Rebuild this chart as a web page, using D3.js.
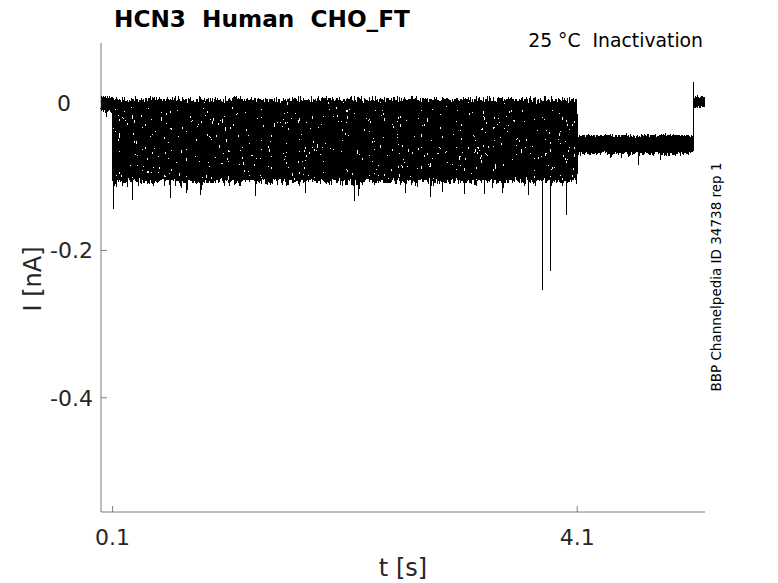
<!DOCTYPE html>
<html><head><meta charset="utf-8">
<script src="https://cdn.jsdelivr.net/npm/d3@7"></script>
<style>
body{margin:0;background:#fff;}
text{font-family:"DejaVu Sans",sans-serif;white-space:pre;}
</style></head>
<body><svg id="c" width="778" height="583"></svg>
<script>
// ---- data ----
const title = "HCN3  Human  CHO_FT";
const subtitle = "25 \u00B0C  Inactivation";
const sideNote = "BBP Channelpedia ID 34738 rep 1";
const xTicks = [0.1, 4.1];
const xTickLabels = ["0.1", "4.1"];
const yTicks = [0, -0.2, -0.4];
const yTickLabels = ["0", "-0.2", "-0.4"];
// protocol epochs (s)
const epochStarts = [0, 0.1, 4.1, 5.1];
const epochEnd = 5.2;
const sampleRate = 400; // samples per second drawn
// holding current before / after (nA)
const preLevel = -0.001;
const postLevel = 0.002;
// current level of each sweep during the 4 s test step (nA)
const stepLevels = [0.000, -0.003, -0.007, -0.012, -0.017, -0.022, -0.027, -0.032, -0.037, -0.042,
                    -0.047, -0.052, -0.057, -0.062, -0.067, -0.072, -0.077, -0.082, -0.087, -0.092,
                    -0.097, -0.102];
// current level of each sweep during the tail step (nA)
const tailLevels = [-0.051, -0.051, -0.052, -0.052, -0.053, -0.053, -0.054, -0.054, -0.055, -0.055,
                    -0.055, -0.056, -0.056, -0.057, -0.057, -0.058, -0.058, -0.059, -0.059, -0.060,
                    -0.060, -0.061];
// recorded noise pattern, fast component (pA)
const noiseA = [3,-2,5,-4,1,-6,2,4,-1,-5,6,-3,0,3,-4,5,-2,-6,1,4,-3,2,-5,6,-1,-4,3,0,5,-2,
  -6,2,4,-3,1,-5,6,-1,3,-4,0,5,-2,-3,4,-6,2,1,-5,3,-1,6,-4,2,-2,5,-3,0,4,-6,1,3,-5,-1,6,-2,
  2,-4,5,0,-3,4,-6,1,-1,3,-5,2,6,-4,0,-2,5,-3,1,4,-6,3,-1,-5,2,6,-2,0,-4,5,1,-3,4,-1,-6];
// recorded noise pattern, second component (pA)
const noiseB = [1,-3,2,0,-1,4,-2,1,-4,3,0,-2,2,-1,3,-7,1,0,-3,2,4,-1,-2,0,3,-4,1,2,-1,-3,3,0,-2,4,-1,2,-5];
// isolated spikes: time (s), peak current (nA)
const spikeT = [0.05, 0.11, 0.27, 0.60, 0.74, 0.86, 1.33, 1.76, 2.18, 2.22, 2.62, 2.84, 2.94,
                3.13, 3.30, 3.46, 3.68, 3.80, 3.87, 4.01, 4.63, 4.82, 5.10];
const spikeI = [-0.019, -0.144, -0.131, -0.129, -0.122, -0.125, -0.126, -0.122, -0.133, -0.126,
                -0.122, -0.127, -0.121, -0.123, -0.124, -0.122, -0.125, -0.254, -0.228, -0.152,
                -0.084, -0.077, 0.028];

// ---- layout ----
const svg = d3.select("#c");
const L = 101, R = 705, T = 43, B = 512;
const x = d3.scaleLinear().domain([0, 5.2]).range([L, R]);
const y = d3.scaleLinear().domain([-0.555, 0.0815]).range([B, T]);

function base(s, t) {
  if (t < epochStarts[1]) return preLevel;
  if (t < epochStarts[2]) return stepLevels[s];
  if (t < epochStarts[3]) return tailLevels[s];
  return postLevel;
}
const nS = Math.round(epochEnd * sampleRate);
const NA = noiseA.length, NB = noiseB.length;
const sweeps = stepLevels.map((lv, s) => d3.range(nS + 1).map(i => {
  const t = i / sampleRate;
  const amp = (t >= epochStarts[3]) ? 0.7 : 1;
  const a = noiseA[(i * (3 + 4 * s) + 13 * s) % NA];
  const b = noiseB[(i * (2 + s) + 5 * s) % NB];
  return [t, base(s, t) + amp * (a + b) / 1000];
}));
// place spikes on the sweep whose level is closest
spikeT.forEach((t, k) => {
  const v = spikeI[k];
  let best = 0, bd = Infinity;
  stepLevels.forEach((_, s) => { const d = Math.abs(base(s, t) - v); if (d < bd - 1e-9) { bd = d; best = s; } });
  const idx = Math.round(t * sampleRate);
  sweeps[best][idx] = [sweeps[best][idx][0], v];
});

const line = d3.line().x(d => x(d[0])).y(d => y(d[1]));
svg.append("g").selectAll("path").data(sweeps).join("path")
  .attr("d", line).attr("fill", "none").attr("stroke", "#000").attr("stroke-width", 1)
  .attr("shape-rendering", "crispEdges");

// ---- axes ----
const axCol = "#262626";
const ax = svg.append("g").attr("stroke", axCol).attr("stroke-width", 0.6).attr("fill", "none");
ax.append("line").attr("x1", L).attr("x2", L).attr("y1", T).attr("y2", B);
ax.append("line").attr("x1", L).attr("x2", R).attr("y1", B).attr("y2", B);
yTicks.forEach(v => ax.append("line").attr("x1", L).attr("x2", L + 6).attr("y1", y(v)).attr("y2", y(v)));
xTicks.forEach(v => ax.append("line").attr("x1", x(v)).attr("x2", x(v)).attr("y1", B).attr("y2", B - 6));

const tl = svg.append("g").attr("fill", axCol).attr("font-size", 22);
yTicks.forEach((v, i) => tl.append("text")
  .attr("x", i === 0 ? 71 : 93).attr("y", y(v)).attr("dy", "0.36em")
  .attr("text-anchor", "end").text(yTickLabels[i]));
xTicks.forEach((v, i) => tl.append("text")
  .attr("x", x(v)).attr("y", 545).attr("text-anchor", "middle").text(xTickLabels[i]));

svg.append("text").attr("x", 403).attr("y", 576).attr("text-anchor", "middle")
  .attr("font-size", 24).attr("fill", axCol).text("t [s]");
svg.append("text").attr("transform", "translate(41,279) rotate(-90)").attr("text-anchor", "middle")
  .attr("font-size", 24).attr("fill", axCol).text("I [nA]");

svg.append("text").attr("x", 114).attr("y", 27).attr("font-size", 23.2).attr("font-weight", "bold")
  .attr("fill", "#000").text(title);
svg.append("text").attr("x", 703).attr("y", 47).attr("text-anchor", "end")
  .attr("font-size", 18.8).attr("fill", "#000").text(subtitle);
svg.append("text").attr("transform", "translate(721,277) rotate(-90)").attr("text-anchor", "middle")
  .attr("font-size", 13.5).attr("fill", "#000").text(sideNote);
</script></body></html>
